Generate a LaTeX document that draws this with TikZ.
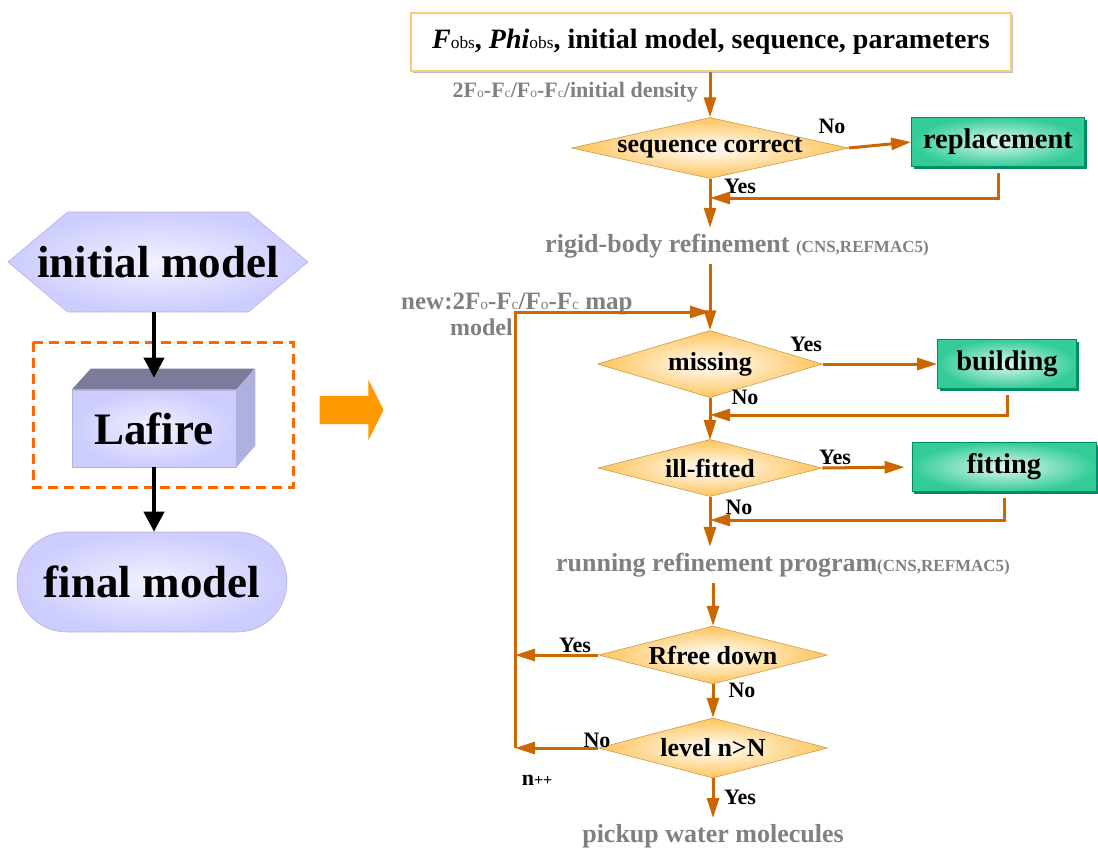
\documentclass[tikz,border=0pt]{standalone}
\usepackage{fontspec}
\usepackage{graphicx}
\setmainfont{Liberation Serif}
\usetikzlibrary{arrows.meta, shapes.geometric, shapes.symbols, shapes.arrows, shadows}

\definecolor{lav}{RGB}{204,204,255}
\definecolor{lavtop}{RGB}{123,123,156}
\definecolor{lavside}{RGB}{176,176,224}
\definecolor{flowc}{RGB}{204,102,0}
\definecolor{notec}{RGB}{128,128,128}
\definecolor{gold}{RGB}{255,196,90}
\definecolor{mint}{RGB}{51,204,153}
\definecolor{mintdark}{RGB}{0,140,100}
\definecolor{dashorange}{RGB}{255,102,0}
\definecolor{blockorange}{RGB}{255,153,0}
\definecolor{frame}{RGB}{250,205,120}

% Small index letters sitting on the baseline.
\newcommand{\lowsub}[1]{\scalebox{0.62}{\mdseries #1}}

\begin{document}
\begin{tikzpicture}[%
        x = 1pt,
        y = -1pt,
        > = {Triangle[length = 20pt, width = 12pt]},
        link/.style = {%
            draw = flowc,
            line width = 3pt,
            ->
        },
        heavy/.style = {%
            draw = black,
            line width = 4pt,
            -{Triangle[length = 20pt, width = 20pt]}
        },
        bigtext/.style = {%
            inner sep = 0pt,
            font = \bfseries\fontsize{45}{50}\selectfont
        },
        lavnode/.style = {%
            inner color = lav!25,
            outer color = lav,
            draw = lav!70!gray,
            line width = 0.6pt,
            inner sep = 0pt,
            bigtext
        },
        asktext/.style = {%
            inner sep = 0pt,
            font = \bfseries\fontsize{26}{28}\selectfont
        },
        ask/.style = {%
            diamond,
            inner sep = 0pt,
            inner color = white,
            outer color = gold,
            draw = gold!75!black,
            line width = 0.5pt,
            minimum width = 277,
            minimum height = 61,
            label = {[asktext]center:#1}
        },
        task/.style = {%
            rectangle,
            inner color = mint!15,
            outer color = mint,
            draw = mintdark,
            line width = 0.8pt,
            minimum height = 49,
            font = \bfseries\fontsize{28.5}{30}\selectfont,
            drop shadow = {%
                shadow xshift = 2pt,
                shadow yshift = -2pt,
                fill = mintdark,
                opacity = 1
            }
        },
        note/.style = {%
            text = notec,
            inner sep = 0pt,
            font = \bfseries\fontsize{26}{28}\selectfont
        },
        ans/.style = {%
            inner sep = 0pt,
            font = \bfseries\fontsize{22}{24}\selectfont
        }
    ]

        \useasboundingbox (0, 0) rectangle (1098, 849);

        % Overview on the left: initial model, Lafire, final model.
        \node[%
            lavnode,
            signal,
            signal to = east and west,
            signal pointer angle = 80,
            minimum width = 300,
            minimum height = 100,
            label = {[bigtext]center:initial model}
        ] (init) at (158, 262) {};

        \draw[%
            dashorange,
            line width = 3pt,
            dash pattern = on 10pt off 6pt
        ] (33, 342) rectangle (293, 487);

        \node[lavnode, minimum width = 164, minimum height = 77]
            (lafire) at (154, 428.5) {Lafire};
        \fill[lavtop] (lafire.north west) -- ++(19, -21) -- ++(164, 0)
                      -- (lafire.north east) -- cycle;
        \fill[lavside] (lafire.north east) -- ++(19, -21) -- ++(0, 77)
                       -- (lafire.south east) -- cycle;

        \node[%
            lavnode,
            rounded corners = 50pt,
            minimum width = 270,
            minimum height = 100
        ] (final) at (152, 582) {final model};

        \draw[heavy, shorten > = 12pt] (init.south -| lafire.north) to (lafire.north);
        \draw[heavy] (lafire.south) to (final.north -| lafire.south);

        % Block arrow pointing to the detailed flow.
        \node[%
            single arrow,
            fill = blockorange,
            inner xsep = 0pt,
            inner ysep = 14pt,
            minimum height = 64,
            single arrow head extend = 16pt,
            single arrow tip angle = 127
        ] (go) at (348, 410) {};

        % Input box and first check.
        \node[%
            rectangle,
            fill = white,
            draw = frame,
            line width = 2.5pt,
            minimum width = 600,
            minimum height = 58,
            font = \bfseries\fontsize{28}{30}\selectfont,
            drop shadow = {%
                shadow xshift = 2pt,
                shadow yshift = -2pt,
                fill = gray!50,
                opacity = 1
            }
        ] (input) at (711, 42)
            {\textit{F}\lowsub{obs}, \textit{Phi}\lowsub{obs},
             initial model, sequence, parameters};

        \node[note, anchor = east, font = \bfseries\fontsize{22}{24}\selectfont]
            (dens) at (698, 92)
            {2F\lowsub{o}-F\lowsub{c}/F\lowsub{o}-F\lowsub{c}/initial density};

        \node[ask = {sequence correct}] (seq) at (710, 148) {};
        \node[task, minimum width = 173] (rep) at (998, 142) {replacement};
        \node[ans] (no1) at (832, 126) {No};
        \node[ans] (yes1) at (740, 186) {Yes};
        \coordinate (j1) at (710, 198);

        \node[note] (rigid) at (737, 246)
            {rigid-body refinement {\fontsize{17}{18}\selectfont(CNS,REFMAC5)}};

        \draw[link] (input.south -| seq.north) to (seq.north);
        \draw[link] (seq.east) to (rep.west);
        \draw[link, shorten > = 6pt] (seq.south) to (seq.south |- rigid.north);
        \draw[link, shorten < = 6pt] (rep.south) |- (j1);

        % Missing residues and building.
        \node[note, anchor = west, font = \bfseries\fontsize{25}{26}\selectfont]
            (newmap) at (401, 304)
            {new:2F\lowsub{o}-F\lowsub{c}/F\lowsub{o}-F\lowsub{c} map};
        \node[note, anchor = east, font = \bfseries\fontsize{24}{26}\selectfont]
            (newmodel) at (513, 327) {model};

        \node[ask = missing, minimum width = 225, minimum height = 67] (miss) at (710, 364) {};
        \node[task, minimum width = 139] (build) at (1007, 364) {building};
        \node[ans] (yes2) at (806, 344) {Yes};
        \node[ans] (no2) at (745, 397) {No};
        \coordinate (j2) at (710, 415);

        \draw[link, shorten < = 6pt] (miss.north |- rigid.south) to (miss.north);
        \draw[link] (miss.east) to (build.west);
        \draw[link] (miss.south) to (miss.south |- 0, 440);
        \draw[link, shorten < = 6pt] (build.south) |- (j2);

        % Ill-fitted residues and fitting.
        \node[ask = ill-fitted, minimum width = 224, minimum height = 57] (ill) at (710, 468) {};
        \node[task, minimum width = 184] (fit) at (1004, 467) {fitting};
        \node[ans] (yes3) at (835, 457) {Yes};
        \node[ans] (no3) at (739, 507) {No};
        \coordinate (j3) at (710, 520);

        \node[note] (run) at (783, 565)
            {running refinement program{\fontsize{17}{18}\selectfont(CNS,REFMAC5)}};

        \draw[link, shorten > = 7pt] (ill.east) to (fit.west);
        \draw[link, shorten > = 6pt] (ill.south) to (ill.south |- run.north);
        \draw[link, shorten < = 6pt] (fit.south) |- (j3);

        % Convergence checks and the loop back.
        \node[ask = {Rfree down}, minimum width = 229, minimum height = 58] (rfree) at (713, 655) {};
        \node[ask = {level n>N}, minimum width = 229, minimum height = 60] (level) at (713, 748) {};
        \node[ans] (yes4) at (575, 645) {Yes};
        \node[ans] (no4) at (742, 690) {No};
        \node[ans] (no5) at (597, 740) {No};
        \node[ans] (yes5) at (740, 797) {Yes};
        \node[ans] (count) at (537, 780) {n{\fontsize{16}{16}\selectfont++}};

        \node[note] (pick) at (713, 836) {pickup water molecules};

        \coordinate (loopb) at (515, 748);
        \coordinate (loopt) at (515, 312);
        \coordinate (j0) at (710, 312);

        \draw[link, shorten < = 6pt] (rfree.north |- run.south) to (rfree.north);
        \draw[link] (rfree.south) to (level.north);
        \draw[link, shorten > = 6pt] (level.south) to (level.south |- pick.north);
        \draw[link] (rfree.west) to (rfree.west -| loopb);
        \draw[link] (level.west) to (loopb);
        \draw[link] (loopb) to (loopt) to (j0);
    \end{tikzpicture}
\end{document}
